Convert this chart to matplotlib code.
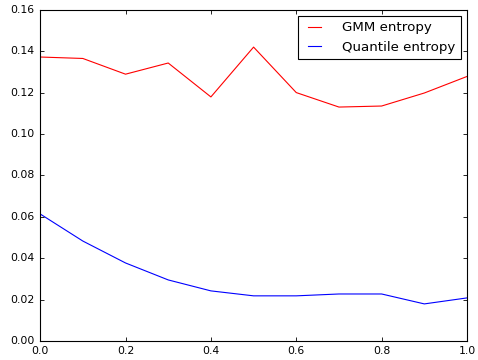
import numpy as np
import matplotlib
matplotlib.use("Agg")
import matplotlib.pyplot as plt

plt.style.use('classic')

# x positions of the samples
x = [0.0, 0.1, 0.2, 0.3, 0.4, 0.5, 0.6, 0.7, 0.8, 0.9, 1.0]

gmm_entropy = [0.1373, 0.1366, 0.1290, 0.1344, 0.1180, 0.1421,
               0.1201, 0.1131, 0.1136, 0.1199, 0.1279]
quantile_entropy = [0.0614, 0.0483, 0.0377, 0.0295, 0.0242, 0.0218,
                    0.0218, 0.0227, 0.0227, 0.0179, 0.0208]

fig = plt.figure(figsize=(4.78, 3.6), dpi=100)
ax = fig.add_subplot(111)
fig.subplots_adjust(left=0.084, right=0.977, top=0.972, bottom=0.053)

ax.plot(x, gmm_entropy, 'r-', lw=0.8, label='GMM entropy')
ax.plot(x, quantile_entropy, 'b-', lw=0.8, label='Quantile entropy')

ax.set_xlim(0, 1)
ax.set_ylim(0, 0.16)
ax.tick_params(labelsize=7.8, length=3, width=0.6)
for s in ax.spines.values():
    s.set_linewidth(0.8)

leg = ax.legend(loc='upper right', fontsize=9.6, handlelength=1.6,
                handletextpad=1.3, borderaxespad=0.45)
leg.get_frame().set_linewidth(0.8)

fig.savefig('out.png', dpi=100)
